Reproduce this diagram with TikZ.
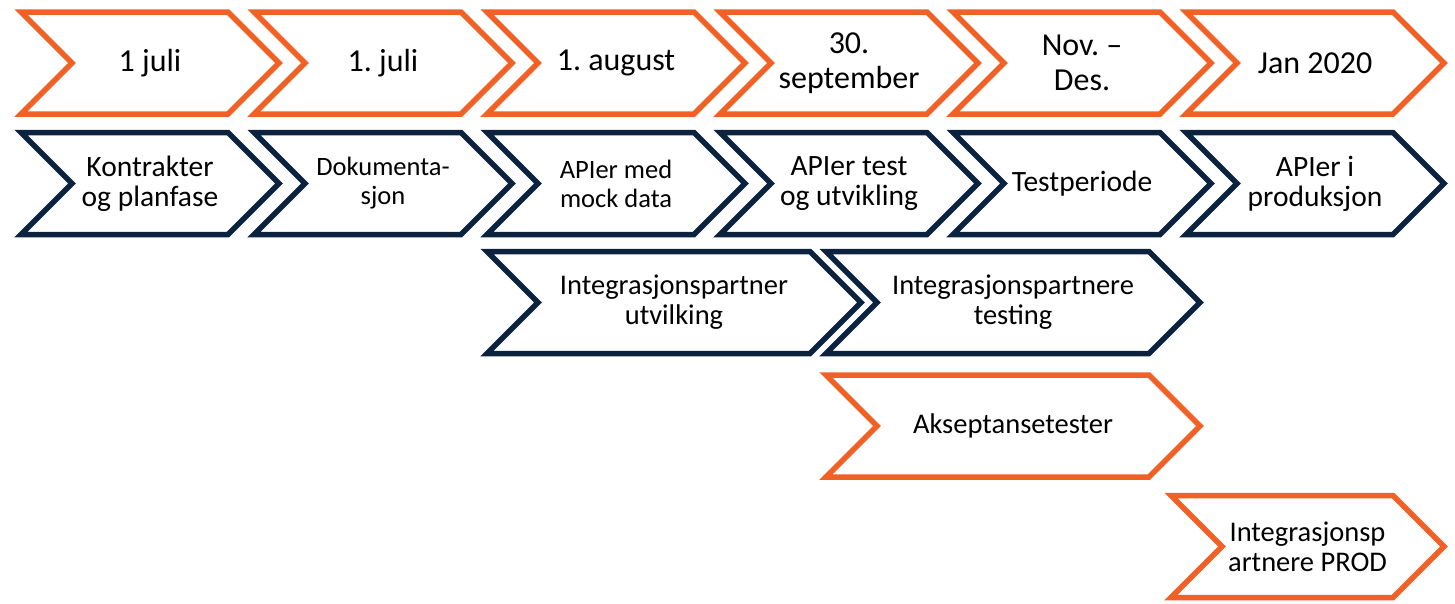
\documentclass[tikz,border=0pt]{standalone}
\usepackage{fontspec}
\setmainfont{Carlito}
\frenchspacing
\usetikzlibrary{shapes.symbols}
\definecolor{datoorange}{RGB}{241,96,37}
\definecolor{fasenavy}{RGB}{12,35,64}
\tikzset{
  chevron/.style={signal, signal from=west, signal to=east,
    signal pointer angle=90, minimum height=102pt,
    line width=5.5pt, align=center, inner sep=0pt},
  dato/.style={chevron, draw=datoorange, minimum width=258pt,
    font=\fontsize{32}{35}\selectfont},
  fase/.style={chevron, draw=fasenavy, minimum width=258pt,
    font=\fontsize{29.5}{30}\selectfont},
  smal/.style={font=\fontsize{26.5}{29}\selectfont},
  lang/.style={font=\fontsize{28.5}{30}\selectfont}
}
\begin{document}
\begin{tikzpicture}[x=1pt,y=-1pt]
    \useasboundingbox (0,0) rectangle (1455,603);
    \def\dx{233}
    % datoer
    \node[dato] (D0) at (150+0*\dx, 63) {1 juli};
    \node[dato] (D1) at (150+1*\dx, 63) {1. juli};
    \node[dato] (D2) at (150+2*\dx, 63) {1. august};
    \node[dato] (D3) at (150+3*\dx, 63) {30.\\september};
    \node[dato] (D4) at (150+4*\dx, 63) {Nov. --\\Des.};
    \node[dato] (D5) at (150+5*\dx, 63) {Jan 2020};
    % faser
    \node[fase] (F0) at (150+0*\dx, 183.5) {Kontrakter\\og planfase};
    \node[fase,smal] (F1) at (150+1*\dx, 183.5) {Dokumenta-\\sjon};
    \node[fase,smal] (F2) at (150+2*\dx, 183.5) {APIer med\\mock data};
    \node[fase] (F3) at (150+3*\dx, 183.5) {APIer test\\og utvikling};
    \node[fase] (F4) at (150+4*\dx, 183.5) {Testperiode};
    \node[fase] (F5) at (150+5*\dx, 183.5) {APIer i\\produksjon};
    % integrasjon og test
    \node[fase,lang,minimum width=374pt] (I0) at (674, 302.5)
      {Integrasjonspartner\\utvilking};
    \node[fase,lang,minimum width=374pt] (I1) at (1013, 302.5)
      {Integrasjonspartnere\\testing};
    \node[dato,lang,minimum width=374pt] (A0) at (1013, 426)
      {Akseptansetester};
    \node[dato,lang,minimum width=273pt] (P0) at (1307.5, 546.5)
      {Integrasjonsp\\artnere PROD};
\end{tikzpicture}
\end{document}
